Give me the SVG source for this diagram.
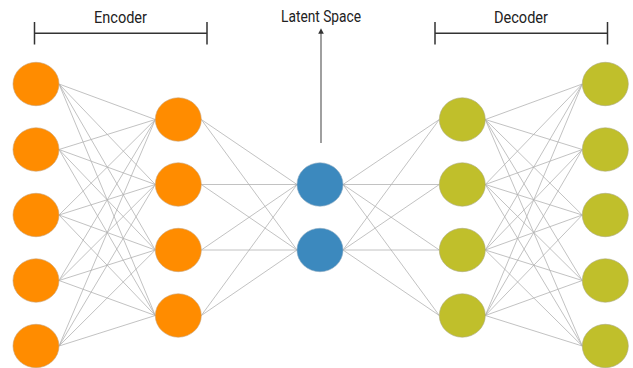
<svg xmlns="http://www.w3.org/2000/svg" width="633" height="368" viewBox="0 0 633 368">
<style>
.enc{fill:#FF8C00;stroke:#c9a070;stroke-width:0.6}
.lat{fill:#3C89BE;stroke:#8aa8c0;stroke-width:0.6}
.dec{fill:#C0BF2B;stroke:#a9a87a;stroke-width:0.6}
.e{stroke:#b3b3b3;stroke-width:0.8;fill:none}
.br{stroke:#333;stroke-width:1.5;fill:none}
.lbl{font-family:Roboto,"Liberation Sans",sans-serif;font-size:16px;fill:#222;text-anchor:middle}
</style>
<defs>
<marker id="ah" viewBox="0 0 6 6" refX="3" refY="3" markerWidth="4" markerHeight="4" orient="auto">
<path d="M0,0 L6,3 L0,6 z" fill="#333"/>
</marker>
</defs>
<g id="connectors">
<g id="l1-l2">
<path class="e" d="M59,84L155.3,119.5M59,84L155.3,184.5M59,84L155.3,250M59,84L155.3,315.5
M59,149.5L155.3,119.5M59,149.5L155.3,184.5M59,149.5L155.3,250M59,149.5L155.3,315.5
M59,215L155.3,119.5M59,215L155.3,184.5M59,215L155.3,250M59,215L155.3,315.5
M59,280.5L155.3,119.5M59,280.5L155.3,184.5M59,280.5L155.3,250M59,280.5L155.3,315.5
M59,346L155.3,119.5M59,346L155.3,184.5M59,346L155.3,250M59,346L155.3,315.5"/>
</g>
<g id="l2-l3">
<path class="e" d="M201.3,119.5L297,184.5M201.3,119.5L297,250
M201.3,184.5L297,184.5M201.3,184.5L297,250
M201.3,250L297,184.5M201.3,250L297,250
M201.3,315.5L297,184.5M201.3,315.5L297,250"/>
</g>
<g id="l3-l4">
<path class="e" d="M343,184.5L439.3,119.5M343,184.5L439.3,184.5M343,184.5L439.3,250M343,184.5L439.3,315.5
M343,250L439.3,119.5M343,250L439.3,184.5M343,250L439.3,250M343,250L439.3,315.5"/>
</g>
<g id="l4-l5">
<path class="e" d="M485.3,119.5L582.3,84M485.3,119.5L582.3,149.5M485.3,119.5L582.3,215M485.3,119.5L582.3,280.5M485.3,119.5L582.3,346
M485.3,184.5L582.3,84M485.3,184.5L582.3,149.5M485.3,184.5L582.3,215M485.3,184.5L582.3,280.5M485.3,184.5L582.3,346
M485.3,250L582.3,84M485.3,250L582.3,149.5M485.3,250L582.3,215M485.3,250L582.3,280.5M485.3,250L582.3,346
M485.3,315.5L582.3,84M485.3,315.5L582.3,149.5M485.3,315.5L582.3,215M485.3,315.5L582.3,280.5M485.3,315.5L582.3,346"/>
</g>
<line id="latent-arrow" x1="321" y1="143" x2="321" y2="31" stroke="#777" stroke-width="1.4" marker-end="url(#ah)"/>
</g>
<g id="encoder-bracket">
<path class="br" d="M34.5,22V44.5M34.5,33.3H207M207,22V44.5"/>
<text class="lbl" x="120.5" y="22.5" textLength="53" lengthAdjust="spacingAndGlyphs">Encoder</text>
</g>
<g id="decoder-bracket">
<path class="br" d="M435,22V44.5M435,33.3H607.5M607.5,22V44.5"/>
<text class="lbl" x="521" y="22.5" textLength="54" lengthAdjust="spacingAndGlyphs">Decoder</text>
</g>
<g id="latent-label"><text class="lbl" x="321" y="22" textLength="80" lengthAdjust="spacingAndGlyphs">Latent Space</text></g>
<g id="in1"><ellipse class="enc" cx="36" cy="84" rx="23" ry="21.7"/></g>
<g id="in2"><ellipse class="enc" cx="36" cy="149.5" rx="23" ry="21.7"/></g>
<g id="in3"><ellipse class="enc" cx="36" cy="215" rx="23" ry="21.7"/></g>
<g id="in4"><ellipse class="enc" cx="36" cy="280.5" rx="23" ry="21.7"/></g>
<g id="in5"><ellipse class="enc" cx="36" cy="346" rx="23" ry="21.7"/></g>
<g id="h1"><ellipse class="enc" cx="178.3" cy="119.5" rx="23" ry="21.7"/></g>
<g id="h2"><ellipse class="enc" cx="178.3" cy="184.5" rx="23" ry="21.7"/></g>
<g id="h3"><ellipse class="enc" cx="178.3" cy="250" rx="23" ry="21.7"/></g>
<g id="h4"><ellipse class="enc" cx="178.3" cy="315.5" rx="23" ry="21.7"/></g>
<g id="z1"><ellipse class="lat" cx="320" cy="184.5" rx="23" ry="21.7"/></g>
<g id="z2"><ellipse class="lat" cx="320" cy="250" rx="23" ry="21.7"/></g>
<g id="d1"><ellipse class="dec" cx="462.3" cy="119.5" rx="23" ry="21.7"/></g>
<g id="d2"><ellipse class="dec" cx="462.3" cy="184.5" rx="23" ry="21.7"/></g>
<g id="d3"><ellipse class="dec" cx="462.3" cy="250" rx="23" ry="21.7"/></g>
<g id="d4"><ellipse class="dec" cx="462.3" cy="315.5" rx="23" ry="21.7"/></g>
<g id="out1"><ellipse class="dec" cx="605.3" cy="84" rx="23" ry="21.7"/></g>
<g id="out2"><ellipse class="dec" cx="605.3" cy="149.5" rx="23" ry="21.7"/></g>
<g id="out3"><ellipse class="dec" cx="605.3" cy="215" rx="23" ry="21.7"/></g>
<g id="out4"><ellipse class="dec" cx="605.3" cy="280.5" rx="23" ry="21.7"/></g>
<g id="out5"><ellipse class="dec" cx="605.3" cy="346" rx="23" ry="21.7"/></g>
</svg>
